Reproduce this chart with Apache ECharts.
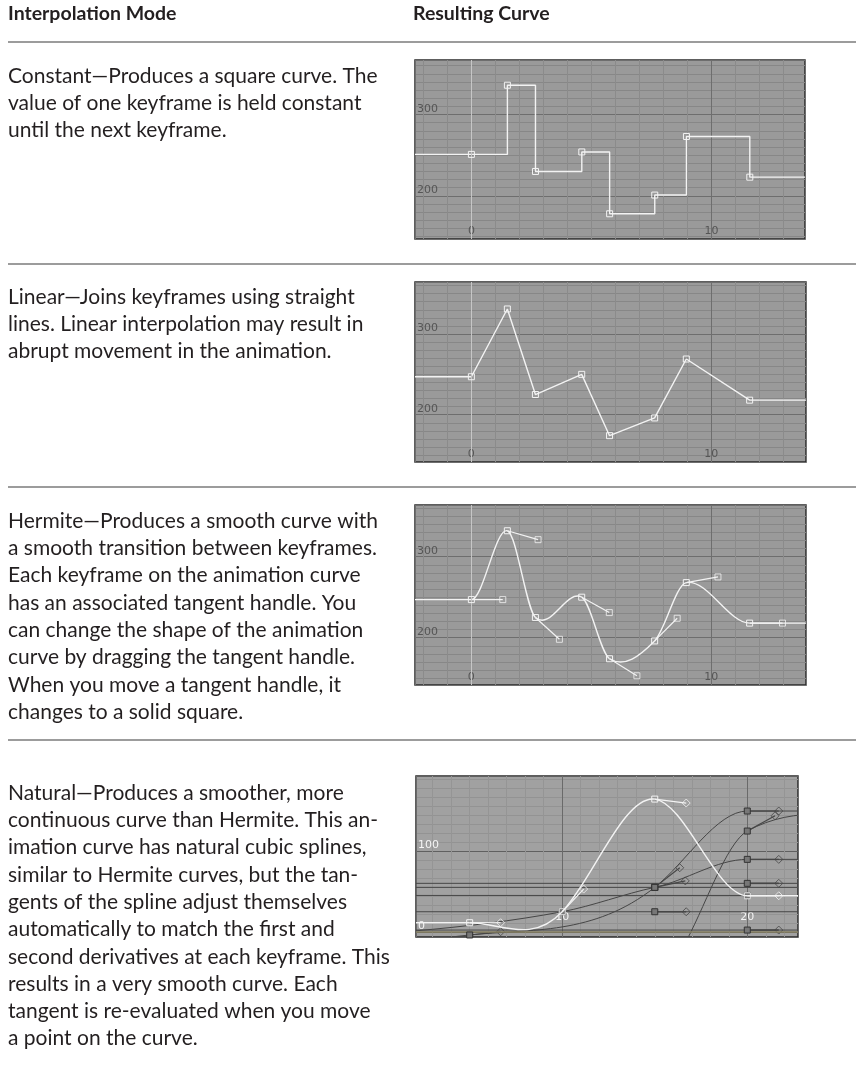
<!DOCTYPE html>
<html><head><meta charset="utf-8">
<script src="https://cdn.jsdelivr.net/npm/echarts@6/dist/echarts.min.js"></script>
<style>html,body{margin:0;padding:0;background:#fff;}#c{width:856px;height:1086px;}</style>
</head><body><div id="c"></div>
<script>
// ---------------- text ----------------
const headerLeft = 'Interpolation Mode';
const headerRight = 'Resulting Curve';
const constantText = ['Constant\u2014Produces a square curve. The', 'value of one keyframe is held constant', 'until the next keyframe.'];
const linearText = ['Linear\u2014Joins keyframes using straight', 'lines. Linear interpolation may result in', 'abrupt movement in the animation.'];
const hermiteText = ['Hermite\u2014Produces a smooth curve with', 'a smooth transition between keyframes.', 'Each keyframe on the animation curve', 'has an associated tangent handle. You', 'can change the shape of the animation', 'curve by dragging the tangent handle.', 'When you move a tangent handle, it', 'changes to a solid square.'];
const naturalText = ['Natural\u2014Produces a smoother, more', 'continuous curve than Hermite. This an-', 'imation curve has natural cubic splines,', 'similar to Hermite curves, but the tan-', 'gents of the spline adjust themselves', 'automatically to match the first and', 'second derivatives at each keyframe. This', 'results in a very smooth curve. Each', 'tangent is re-evaluated when you move', 'a point on the curve.'];

// ---------------- data (frames / values) ----------------
const keyX = [0, 1.5, 2.67, 4.6, 5.76, 7.64, 8.96, 11.6];
const constantY = [251, 336, 230, 254, 178, 201, 273, 223];
const linearY = [247, 331, 225, 250, 174, 196, 269, 218];
const hermiteY = [247, 332, 225, 250, 174, 196, 268, 218];
const hermiteHandleX = [1.31, 2.78, 3.67, 5.75, 6.9, 8.58, 10.28, 12.97];
const hermiteHandleY = [247, 321, 198, 231, 153, 224, 275, 218];

// natural: white (selected) curve
const natWhiteX = [5, 10, 15, 20];
const natWhiteY = [11.2, 24.8, 164.4, 44.6];
const natWhiteHX = [6.67, 11.16, 16.7, 21.7];
const natWhiteHY = [11.2, 52.9, 159.5, 44.6];
// natural: other (dark) curves
const natAX = [1, 5, 15, 20], natAY = [-14, -4, 55, 149.6];
const natAHX = [2, 6.67, 16.35, 21.7], natAHY = [-11.6, 0, 79.3, 149.6], natAShow = [0, 1, 1, 1];
const natBX = [2, 10, 15, 20], natBY = [1, 24.8, 55, 89.7];
const natBHX = [3.67, 11.67, 16.65, 21.7], natBHY = [4.3, 32, 63, 89.7], natBShow = [0, 0, 1, 1];
const natCX = [16.5, 20, 24], natCY = [-20, 124.8, 146];
const natCHX = [17.5, 21.5, 25.7], natCHY = [20, 143.7, 146], natCShow = [0, 1, 0];
// flat curves: value, key frame, handle shown
const natFlatY = [60, 55, 45, 24.8, 2.1];
const natFlatKeyX = [20, 15, 20, 15, 20];
const natFlatShow = [1, 0, 0, 1, 1];

// ---------------- layout ----------------
const panels = [
  {left: 415, top: 60, width: 390, height: 179, xMin: -2.35, xMax: 13.9, yMin: 147, yMax: 367},
  {left: 415, top: 282, width: 391, height: 180, xMin: -2.35, xMax: 13.95, yMin: 141.4, yMax: 364.4},
  {left: 415, top: 505, width: 391, height: 180, xMin: -2.35, xMax: 13.95, yMin: 141.6, yMax: 363.8},
  {left: 416, top: 776, width: 382, height: 161, xMin: 2.1, xMax: 22.74, yMin: -6.5, yMax: 193}
];
const bodyFont = '21px Lato';
const headFont = 'bold 19.5px Lato';
const lineH = 27.3;

const chart = echarts.init(document.getElementById('c'));

const grids = panels.map((p, i) => ({
  left: p.left, top: p.top, width: p.width, height: p.height,
  show: true, backgroundColor: i === 3 ? '#a1a1a1' : '#9a9a9a',
  borderColor: '#2a2a2a', borderWidth: 1.5, containLabel: false
}));

function xAx(i) {
  const p = panels[i], nat = i === 3;
  return {
    type: 'value', gridIndex: i, min: p.xMin, max: p.xMax, splitNumber: 2,
    axisLine: {show: false}, axisTick: {show: false},
    axisLabel: {inside: true, showMinLabel: false, showMaxLabel: false, margin: nat ? 14 : 2,
      color: nat ? '#f4f4f4' : '#555555', fontSize: 11, fontFamily: 'DejaVu Sans'},
    splitLine: {show: true, lineStyle: {color: nat ? '#6a6a6a' : '#6e6e6e', width: 1}},
    minorTick: {show: false, splitNumber: 10},
    minorSplitLine: {show: true, lineStyle: {color: nat ? '#959595' : '#8b8b8b', width: 1}}
  };
}
function yAx(i) {
  const p = panels[i], nat = i === 3;
  return {
    type: 'value', gridIndex: i, min: p.yMin, max: p.yMax, splitNumber: 2,
    axisLine: {show: false}, axisTick: {show: false},
    axisLabel: {inside: true, showMinLabel: false, showMaxLabel: false, margin: 2, verticalAlign: 'bottom',
      color: nat ? '#f4f4f4' : '#555555', fontSize: 11, fontFamily: 'DejaVu Sans'},
    splitLine: {show: true, lineStyle: {color: nat ? '#606060' : '#6e6e6e', width: 1}},
    minorTick: {show: false, splitNumber: nat ? 9 : 10},
    minorSplitLine: {show: true, lineStyle: {color: nat ? '#939393' : '#878787', width: 1}}
  };
}

const WHITE = '#f3f3f3', DARK = '#464646';
const series = [];

function keySeries(g, xs, ys, opt) {
  series.push({
    type: 'scatter', xAxisIndex: g, yAxisIndex: g, z: opt.z || 5,
    symbol: opt.symbol || 'rect', symbolSize: opt.size || 6, silent: true,
    data: xs.map((x, k) => [x, ys[k]]),
    itemStyle: {color: opt.fill || 'rgba(0,0,0,0)', borderColor: opt.stroke || WHITE, borderWidth: 1, opacity: 1}
  });
}

function curveSeries(g, xs, ys, hx, hy, color, width, z) {
  const p = panels[g];
  const s = xs.map((x, k) => (hy[k] - ys[k]) / (hx[k] - x));
  const segs = [{t: 'f', x0: p.xMin, x1: xs[0], y: ys[0]}];
  for (let k = 0; k < xs.length - 1; k++) segs.push({t: 'b', k: k});
  segs.push({t: 'f', x0: xs[xs.length - 1], x1: p.xMax, y: ys[ys.length - 1]});
  series.push({
    type: 'custom', xAxisIndex: g, yAxisIndex: g, z: z, clip: true, silent: true,
    data: segs.map((sg, k) => [xs[0], ys[0], k]),
    renderItem: function (params, api) {
      const sg = segs[params.dataIndex];
      if (sg.t === 'f') {
        const a = api.coord([sg.x0, sg.y]), b = api.coord([sg.x1, sg.y]);
        return {type: 'line', shape: {x1: a[0], y1: a[1], x2: b[0], y2: b[1]}, style: {stroke: color, lineWidth: width}};
      }
      const k = sg.k, dx = xs[k + 1] - xs[k];
      const p0 = api.coord([xs[k], ys[k]]);
      const c1 = api.coord([xs[k] + dx / 3, ys[k] + s[k] * dx / 3]);
      const c2 = api.coord([xs[k + 1] - dx / 3, ys[k + 1] - s[k + 1] * dx / 3]);
      const p1 = api.coord([xs[k + 1], ys[k + 1]]);
      return {type: 'bezierCurve', shape: {x1: p0[0], y1: p0[1], x2: p1[0], y2: p1[1], cpx1: c1[0], cpy1: c1[1], cpx2: c2[0], cpy2: c2[1]},
        style: {stroke: color, fill: null, lineWidth: width}};
    }
  });
}

function handleSeries(g, xs, ys, hx, hy, show, color, width, symbol, symFill, z) {
  const idx = xs.map((x, k) => k).filter(k => show[k]);
  series.push({
    type: 'custom', xAxisIndex: g, yAxisIndex: g, z: z, clip: true, silent: true,
    data: idx.map(k => [hx[k], hy[k], k]),
    renderItem: function (params, api) {
      const k = idx[params.dataIndex];
      const a = api.coord([xs[k], ys[k]]), b = api.coord([hx[k], hy[k]]);
      return {type: 'line', shape: {x1: a[0], y1: a[1], x2: b[0], y2: b[1]}, style: {stroke: color, lineWidth: width}};
    }
  });
  series.push({
    type: 'scatter', xAxisIndex: g, yAxisIndex: g, z: z + 1, silent: true,
    symbol: symbol, symbolSize: symbol === 'diamond' ? 8 : 6,
    data: idx.map(k => [hx[k], hy[k]]),
    itemStyle: {color: symFill, borderColor: color, borderWidth: 1}
  });
}

const zeroMark = {silent: true, symbol: 'none', label: {show: false}, lineStyle: {color: '#c6c6c6', width: 1, type: 'solid'}, data: [{xAxis: 0}]};

// panel 0: constant (stepped)
series.push({
  type: 'line', xAxisIndex: 0, yAxisIndex: 0, step: 'end', showSymbol: false, silent: true, z: 3,
  data: [[panels[0].xMin, constantY[0]]].concat(keyX.map((x, k) => [x, constantY[k]]), [[panels[0].xMax, constantY[constantY.length - 1]]]),
  lineStyle: {color: WHITE, width: 1.4}, markLine: zeroMark
});
keySeries(0, keyX, constantY, {});

// panel 1: linear
series.push({
  type: 'line', xAxisIndex: 1, yAxisIndex: 1, showSymbol: false, silent: true, z: 3,
  data: [[panels[1].xMin, linearY[0]]].concat(keyX.map((x, k) => [x, linearY[k]]), [[panels[1].xMax, linearY[linearY.length - 1]]]),
  lineStyle: {color: WHITE, width: 1.4}, markLine: zeroMark
});
keySeries(1, keyX, linearY, {});

// panel 2: hermite
series.push({type: 'line', xAxisIndex: 2, yAxisIndex: 2, showSymbol: false, silent: true, z: 1, data: [], markLine: zeroMark});
curveSeries(2, keyX, hermiteY, hermiteHandleX, hermiteHandleY, WHITE, 1.4, 3);
handleSeries(2, keyX, hermiteY, hermiteHandleX, hermiteHandleY, keyX.map(() => 1), WHITE, 1.2, 'rect', 'rgba(0,0,0,0)', 4);
keySeries(2, keyX, hermiteY, {z: 6});

// panel 3: natural
series.push({
  type: 'line', xAxisIndex: 3, yAxisIndex: 3, showSymbol: false, silent: true, z: 1, data: [],
  markLine: {silent: true, symbol: 'none', label: {show: false}, lineStyle: {color: '#867f60', width: 1.5, type: 'solid'}, data: [{yAxis: 0}]}
});
natFlatY.forEach((v, k) => {
  curveSeries(3, [natFlatKeyX[k]], [v], [natFlatKeyX[k] + 1.7], [v], DARK, 1, 2);
  handleSeries(3, [natFlatKeyX[k]], [v], [natFlatKeyX[k] + 1.7], [v], [natFlatShow[k]], DARK, 1.6, 'diamond', 'rgba(0,0,0,0)', 3);
  keySeries(3, [natFlatKeyX[k]], [v], {stroke: '#333', fill: '#777', z: 5});
});
curveSeries(3, natAX, natAY, natAHX, natAHY, DARK, 1, 2);
handleSeries(3, natAX, natAY, natAHX, natAHY, natAShow, DARK, 1.2, 'diamond', 'rgba(0,0,0,0)', 3);
keySeries(3, natAX, natAY, {stroke: '#333', fill: '#777', z: 5});
curveSeries(3, natBX, natBY, natBHX, natBHY, DARK, 1, 2);
handleSeries(3, natBX, natBY, natBHX, natBHY, natBShow, DARK, 1.2, 'diamond', 'rgba(0,0,0,0)', 3);
keySeries(3, natBX, natBY, {stroke: '#333', fill: '#777', z: 5});
curveSeries(3, natCX, natCY, natCHX, natCHY, DARK, 1, 2);
handleSeries(3, natCX, natCY, natCHX, natCHY, natCShow, DARK, 1.2, 'diamond', 'rgba(0,0,0,0)', 3);
keySeries(3, natCX, natCY, {stroke: '#333', fill: '#777', z: 5});
curveSeries(3, natWhiteX, natWhiteY, natWhiteHX, natWhiteHY, WHITE, 1.4, 7);
handleSeries(3, natWhiteX, natWhiteY, natWhiteHX, natWhiteHY, natWhiteX.map(() => 1), WHITE, 1.2, 'diamond', 'rgba(0,0,0,0)', 8);
keySeries(3, natWhiteX, natWhiteY, {z: 10});

// ---------------- graphic: text and rules ----------------
const graphic = [];
function txt(s, x, y, font) {
  graphic.push({type: 'text', x: x, y: y, silent: true,
    style: {text: s, font: font, fill: '#231f20', textAlign: 'left', textVerticalAlign: 'middle', align: 'left', verticalAlign: 'middle'}});
}
function rule(y) {
  graphic.push({type: 'line', silent: true, shape: {x1: 8, y1: y, x2: 856, y2: y}, style: {stroke: '#9c9c9c', lineWidth: 2}});
}
txt(headerLeft, 8, 14, headFont);
txt(headerRight, 413, 14, headFont);
rule(42);
const blocks = [constantText, linearText, hermiteText, naturalText];
const blockY = [76, 297, 521, 793];
blocks.forEach((b, i) => b.forEach((s, j) => txt(s, 8, blockY[i] + j * lineH, bodyFont)));
rule(264); rule(487); rule(740);

chart.setOption({
  animation: false,
  grid: grids,
  xAxis: panels.map((p, i) => xAx(i)),
  yAxis: panels.map((p, i) => yAx(i)),
  series: series,
  graphic: graphic
});
</script></body></html>
